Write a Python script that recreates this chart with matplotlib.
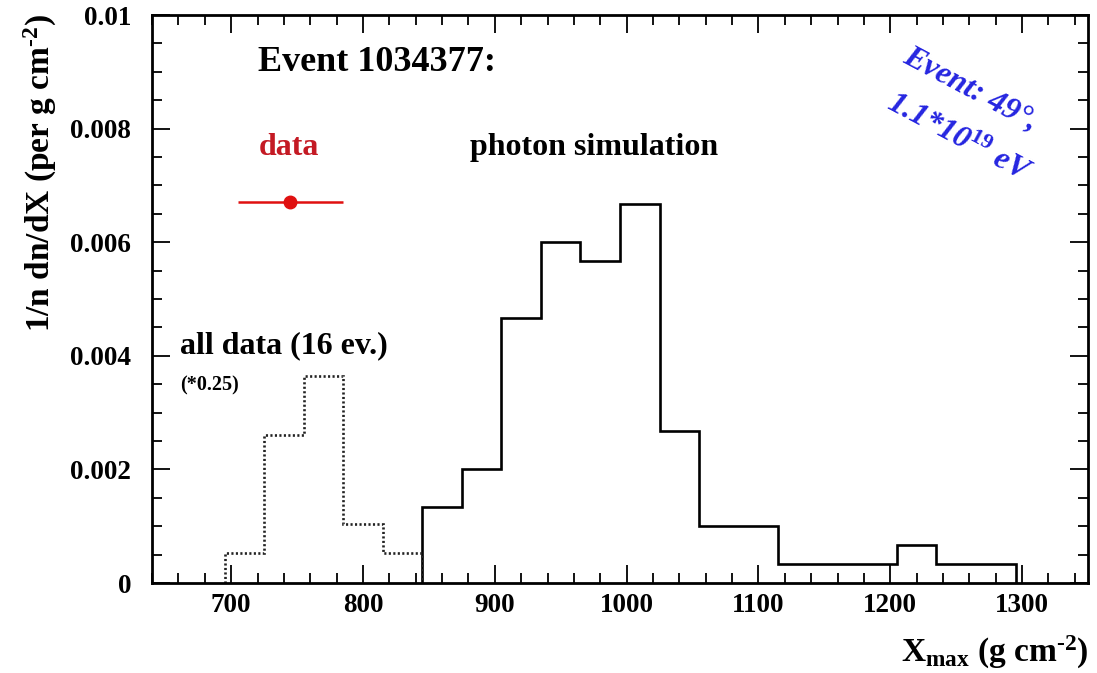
import matplotlib
matplotlib.use("Agg")
import matplotlib.pyplot as plt
import numpy as np
from matplotlib.ticker import MultipleLocator, FixedLocator, FixedFormatter

plt.rcParams['font.family'] = ['Liberation Serif', 'DejaVu Serif']
plt.rcParams['font.weight'] = 'bold'
plt.rcParams['mathtext.fontset'] = 'custom'
plt.rcParams['mathtext.rm'] = 'Liberation Serif:bold'
plt.rcParams['mathtext.it'] = 'Liberation Serif:bold:italic'
plt.rcParams['mathtext.bf'] = 'Liberation Serif:bold'

# photon simulation histogram (bin width 30 g/cm^2)
sim_edges = [845, 875, 905, 935, 965, 995, 1025, 1055, 1085, 1115,
             1145, 1175, 1205, 1235, 1265, 1295]
sim_values = [0.00133, 0.00200, 0.00467, 0.00600, 0.00567, 0.00667, 0.00267,
              0.00100, 0.00100, 0.00033, 0.00033, 0.00033, 0.00067, 0.00033, 0.00033]

# all data (16 ev.) * 0.25
all_edges = [695, 725, 755, 785, 815, 845]
all_values = [0.00052, 0.00260, 0.00365, 0.00104, 0.00052]

# data point for this event
data_x = [745]
data_y = [0.0067]
data_xerr = [40]

x_ticks = [700, 800, 900, 1000, 1100, 1200, 1300]
y_ticks = [0, 0.002, 0.004, 0.006, 0.008, 0.01]
y_tick_labels = ["0", "0.002", "0.004", "0.006", "0.008", "0.01"]

fig = plt.figure(figsize=(10.97, 6.73), dpi=100)
ax = fig.add_axes([0.1386, 0.1337, 0.8532, 0.8440])

ax.stairs(sim_values, sim_edges, baseline=0, color='black', lw=1.9)
ax.stairs(all_values, all_edges, baseline=0, color='#222222', lw=1.9,
          linestyle=(0, (0.8, 0.9)))

ax.errorbar(data_x, data_y, xerr=data_xerr, fmt='o', color='#e01010',
            ms=9, elinewidth=1.8, capsize=0, zorder=5)

ax.set_xlim(640, 1350)
ax.set_ylim(0, 0.01)
ax.xaxis.set_major_locator(FixedLocator(x_ticks))
ax.xaxis.set_minor_locator(MultipleLocator(20))
ax.yaxis.set_major_locator(FixedLocator(y_ticks))
ax.yaxis.set_major_formatter(FixedFormatter(y_tick_labels))
ax.yaxis.set_minor_locator(MultipleLocator(0.0005))

ax.tick_params(which='both', direction='in', top=True, right=True,
               labelsize=19.5, width=1.3)
ax.tick_params(which='major', length=13)
ax.tick_params(axis='y', which='major', pad=15)
ax.tick_params(axis='x', which='major', pad=7)
ax.tick_params(which='minor', length=7)
for s in ax.spines.values():
    s.set_linewidth(2.0)

ax.set_ylabel(r"1/n dn/dX (per g cm$^{\text{-}2}$)", fontsize=24, fontweight='bold')
ax.yaxis.set_label_coords(-0.099, 0.722)
ax.set_xlabel(r"X$_{\mathrm{max}}$ (g cm$^{\text{-}2}$)", fontsize=24, fontweight='bold')
ax.xaxis.set_label_coords(1.0, -0.09)
ax.xaxis.label.set_horizontalalignment('right')

ax.text(720, 0.00917, "Event 1034377:", fontsize=26, fontweight='bold', va='center', ha='left')
ax.text(744, 0.00767, "data", fontsize=23, fontweight='bold', color='#c41a24', va='center', ha='center')
ax.text(881, 0.00767, "photon simulation", fontsize=23, fontweight='bold', va='center', ha='left')
ax.text(661, 0.00418, "all data (16 ev.)", fontsize=23, fontweight='bold', va='center', ha='left')
ax.text(661, 0.00348, "(*0.25)", fontsize=14.5, fontweight='bold', va='center', ha='left')

blue = '#2525e0'
ax.text(0.874, 0.8675, "Event: 49°,", transform=ax.transAxes, fontsize=23, fontweight='bold',
        style='italic', color=blue, rotation=-28, ha='center', va='center', rotation_mode='anchor')
ax.text(0.862, 0.782, r"1.1*10$^{\mathit{19}}$ eV", transform=ax.transAxes, fontsize=23,
        fontweight='bold', style='italic', color=blue, rotation=-28, ha='center', va='center',
        rotation_mode='anchor')

fig.savefig("out.png", dpi=100)
